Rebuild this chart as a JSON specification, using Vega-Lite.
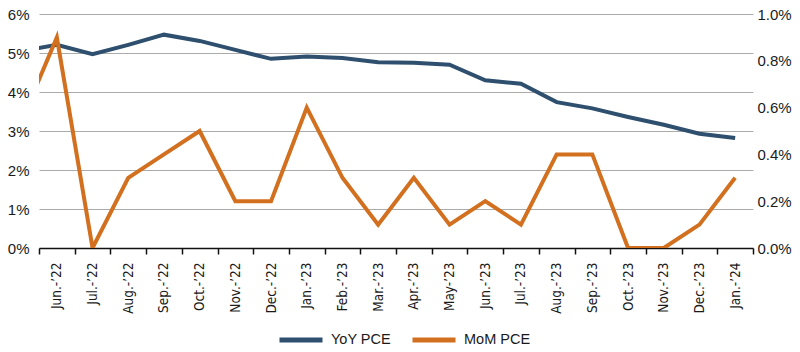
{
  "$schema": "https://vega.github.io/schema/vega-lite/v6.json",
  "width": 714,
  "height": 234,
  "autosize": {"type": "none"},
  "padding": {"left": 39, "top": 14, "right": 47, "bottom": 104},
  "config": {
    "view": {"stroke": null},
    "font": "Liberation Sans",
    "axis": {"labelColor": "#1a1a1a", "title": null}
  },
  "data": {
    "values": [
      {"n": -1, "month": "May-’22", "yoy": 5.05, "mom": 0.54},
      {"n": 0, "month": "Jun.-’22", "yoy": 5.21, "mom": 0.9},
      {"n": 1, "month": "Jul.-’22", "yoy": 4.97, "mom": 0.0},
      {"n": 2, "month": "Aug.-’22", "yoy": 5.21, "mom": 0.3},
      {"n": 3, "month": "Sep.-’22", "yoy": 5.47, "mom": 0.4},
      {"n": 4, "month": "Oct.-’22", "yoy": 5.31, "mom": 0.5},
      {"n": 5, "month": "Nov.-’22", "yoy": 5.08, "mom": 0.2},
      {"n": 6, "month": "Dec.-’22", "yoy": 4.85, "mom": 0.2},
      {"n": 7, "month": "Jan.-’23", "yoy": 4.91, "mom": 0.6},
      {"n": 8, "month": "Feb.-’23", "yoy": 4.87, "mom": 0.3},
      {"n": 9, "month": "Mar.-’23", "yoy": 4.76, "mom": 0.1},
      {"n": 10, "month": "Apr.-’23", "yoy": 4.75, "mom": 0.3},
      {"n": 11, "month": "May-’23", "yoy": 4.7, "mom": 0.1},
      {"n": 12, "month": "Jun.-’23", "yoy": 4.3, "mom": 0.2},
      {"n": 13, "month": "Jul.-’23", "yoy": 4.21, "mom": 0.1},
      {"n": 14, "month": "Aug.-’23", "yoy": 3.74, "mom": 0.4},
      {"n": 15, "month": "Sep.-’23", "yoy": 3.58, "mom": 0.4},
      {"n": 16, "month": "Oct.-’23", "yoy": 3.36, "mom": 0.0},
      {"n": 17, "month": "Nov.-’23", "yoy": 3.16, "mom": 0.0},
      {"n": 18, "month": "Dec.-’23", "yoy": 2.93, "mom": 0.1},
      {"n": 19, "month": "Jan.-’24", "yoy": 2.82, "mom": 0.3}
    ]
  },
  "layer": [
    {
      "mark": {"type": "line", "clip": true, "strokeWidth": 4, "strokeJoin": "miter"},
      "encoding": {
        "x": {
          "field": "n",
          "type": "quantitative",
          "scale": {"domain": [-0.5, 19.5], "nice": false, "zero": false},
          "axis": {
            "orient": "bottom",
            "values": [0, 1, 2, 3, 4, 5, 6, 7, 8, 9, 10, 11, 12, 13, 14, 15, 16, 17, 18, 19],
            "labelExpr": "['Jun.-’22','Jul.-’22','Aug.-’22','Sep.-’22','Oct.-’22','Nov.-’22','Dec.-’22','Jan.-’23','Feb.-’23','Mar.-’23','Apr.-’23','May-’23','Jun.-’23','Jul.-’23','Aug.-’23','Sep.-’23','Oct.-’23','Nov.-’23','Dec.-’23','Jan.-’24'][datum.value]",
            "labelAngle": -90,
            "labelFont": "DejaVu Sans Condensed, Liberation Sans, sans-serif",
            "labelFontSize": 13.5,
            "labelPadding": 14,
            "ticks": false,
            "domain": false,
            "grid": false,
            "labelOverlap": false,
            "labelBound": false
          }
        },
        "y": {
          "field": "yoy",
          "type": "quantitative",
          "scale": {"domain": [0, 6], "nice": false},
          "axis": {
            "values": [0, 1, 2, 3, 4, 5, 6],
            "labelExpr": "datum.value + '%'",
            "grid": true,
            "gridColor": "#ababab",
            "gridWidth": 1,
            "domain": false,
            "ticks": false,
            "labelFontSize": 15,
            "labelPadding": 10
          }
        },
        "color": {
          "datum": "YoY PCE",
          "type": "nominal",
          "scale": {"domain": ["YoY PCE", "MoM PCE"], "range": ["#2e4f6e", "#d2701f"]},
          "legend": {
            "orient": "none",
            "legendX": 238,
            "legendY": 302,
            "direction": "horizontal",
            "title": null,
            "symbolType": "stroke",
            "symbolSize": 1849,
            "symbolStrokeWidth": 5,
            "labelFontSize": 14.5,
            "labelColor": "#1a1a1a",
            "labelOffset": 6,
            "columnPadding": 11
          }
        }
      }
    },
    {
      "mark": {"type": "line", "clip": true, "strokeWidth": 4, "strokeJoin": "miter"},
      "encoding": {
        "x": {
          "field": "n",
          "type": "quantitative",
          "scale": {"domain": [-0.5, 19.5], "nice": false, "zero": false},
          "axis": {
            "orient": "bottom",
            "values": [-0.5, 0.5, 1.5, 2.5, 3.5, 4.5, 5.5, 6.5, 7.5, 8.5, 9.5, 10.5, 11.5, 12.5, 13.5, 14.5, 15.5, 16.5, 17.5, 18.5, 19.5],
            "labels": false,
            "ticks": true,
            "tickSize": 6,
            "tickColor": "#111",
            "tickWidth": 1.5,
            "domain": true,
            "domainColor": "#111",
            "domainWidth": 1.5,
            "grid": false
          }
        },
        "y": {
          "field": "mom",
          "type": "quantitative",
          "scale": {"domain": [0, 1], "nice": false},
          "axis": {
            "orient": "right",
            "values": [0, 0.2, 0.4, 0.6, 0.8, 1.0],
            "labelExpr": "format(datum.value, '.1f') + '%'",
            "grid": false,
            "domain": false,
            "ticks": false,
            "labelFontSize": 15,
            "labelPadding": 4
          }
        },
        "color": {"datum": "MoM PCE", "type": "nominal"}
      }
    }
  ],
  "resolve": {"scale": {"y": "independent"}, "axis": {"x": "independent"}}
}
